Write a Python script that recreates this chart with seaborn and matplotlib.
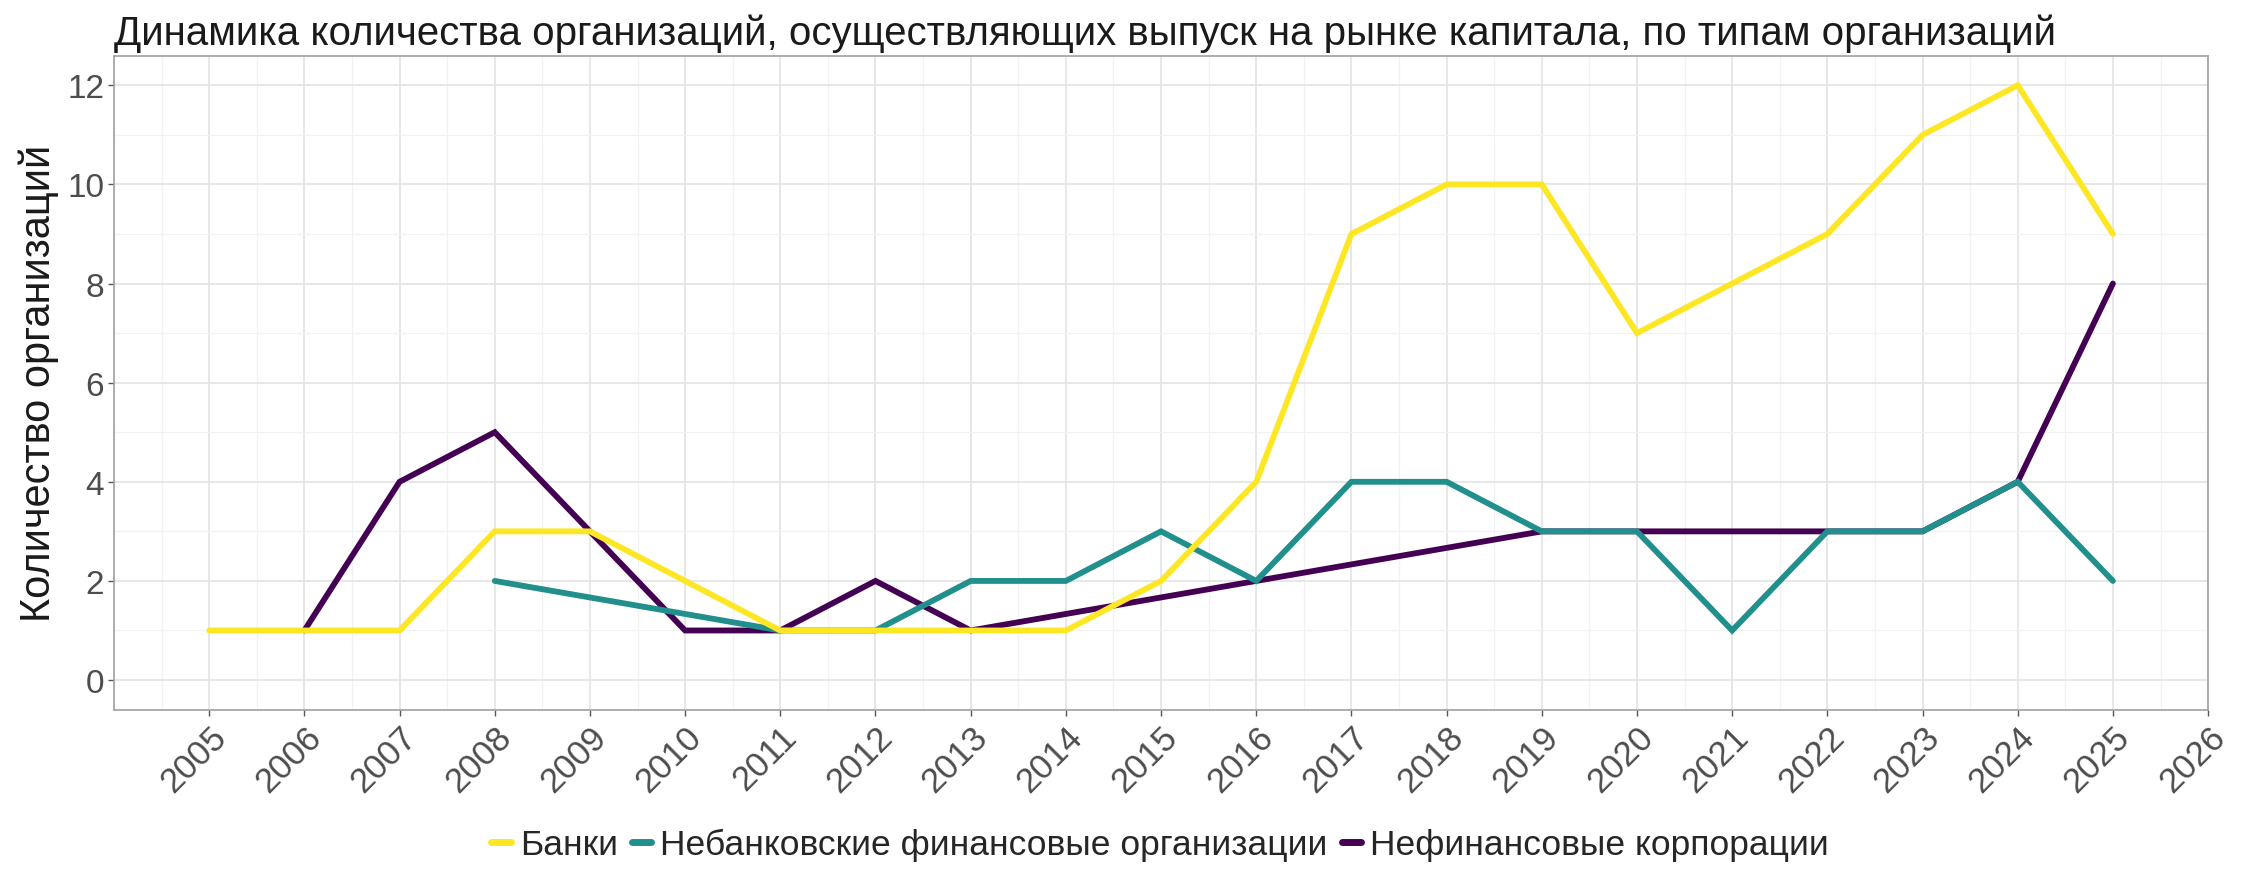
import matplotlib
matplotlib.use("Agg")
import matplotlib.pyplot as plt
from matplotlib.ticker import MultipleLocator
import pandas as pd
import numpy as np
import seaborn as sns

# Data (None = no value that year)
years = list(range(2005, 2026))
banks = [1, 1, 1, 3, 3, 2, 1, 1, 1, 1, 2, 4, 9, 10, 10, 7, 8, 9, 11, 12, 9]
nonbank = [None, None, None, 2, None, None, 1, 1, 2, 2, 3, 2, 4, 4, 3, 3, 1, 3, 3, 4, 2]
nonfin = [None, 1, 4, 5, 3, 1, 1, 2, 1, None, None, 2, None, None, 3, 3, 3, 3, 3, 4, 8]

series = ["Банки", "Небанковские финансовые организации", "Нефинансовые корпорации"]
colors = ["#FDE725", "#21908C", "#440154"]
xticks = list(range(2005, 2027))

rows = []
for name, vals in zip(series, [banks, nonbank, nonfin]):
    for yr, v in zip(years, vals):
        if v is not None:
            rows.append({"year": yr, "count": v, "type": name})
df = pd.DataFrame(rows)

sns.set_theme(style="white")
plt.rcParams["font.family"] = ["Liberation Sans", "DejaVu Sans"]

fig = plt.figure(figsize=(22.44, 8.7), dpi=100)
ax = fig.add_axes([0.0508, 0.183, 0.9332, 0.752])

# draw purple first, yellow last (yellow on top)
for name, col in list(zip(series, colors))[::-1]:
    sub = df[df["type"] == name]
    sns.lineplot(data=sub, x="year", y="count", color=col, linewidth=4.2,
                 ax=ax, label=name, legend=False, solid_joinstyle="miter")

ax.set_xlim(2004, 2026)
ax.set_ylim(-0.6, 12.6)
ax.set_xticks(xticks)
ax.set_xticklabels([str(t) for t in xticks], rotation=45, ha="right",
                   rotation_mode="anchor", fontsize=25, color="#4D4D4D")
ax.yaxis.set_major_locator(MultipleLocator(2))
ax.yaxis.set_minor_locator(MultipleLocator(1))
ax.xaxis.set_minor_locator(MultipleLocator(0.5))
ax.tick_params(axis="y", labelsize=24, labelcolor="#4D4D4D")
ax.tick_params(axis="both", which="major", length=4, width=1, color="#555555",
               direction="out", bottom=True, left=True, pad=3)
ax.tick_params(axis="both", which="minor", length=0)
ax.grid(which="major", color="#E3E3E3", linewidth=1.2)
ax.grid(which="minor", color="#F2F2F2", linewidth=0.9)
for s in ax.spines.values():
    s.set_color("#A0A0A0")
    s.set_linewidth(1.2)

ax.set_xlabel("")
ax.set_ylabel("Количество организаций", fontsize=30, color="#1A1A1A", labelpad=6)
ax.set_title("Динамика количества организаций, осуществляющих выпуск на рынке капитала, по типам организаций",
             fontsize=29, loc="left", color="#1A1A1A", pad=8)

handles, labels = ax.get_legend_handles_labels()
order = [labels.index(s) for s in series]
leg = fig.legend([handles[i] for i in order], [labels[i] for i in order],
                 loc="center", bbox_to_anchor=(0.517, 0.028), ncol=3, frameon=False,
                 fontsize=25.5, handlelength=0.55, handletextpad=0.25, columnspacing=0.4)
for line in leg.get_lines():
    line.set_linewidth(5)

fig.savefig("out.png", dpi=100)
